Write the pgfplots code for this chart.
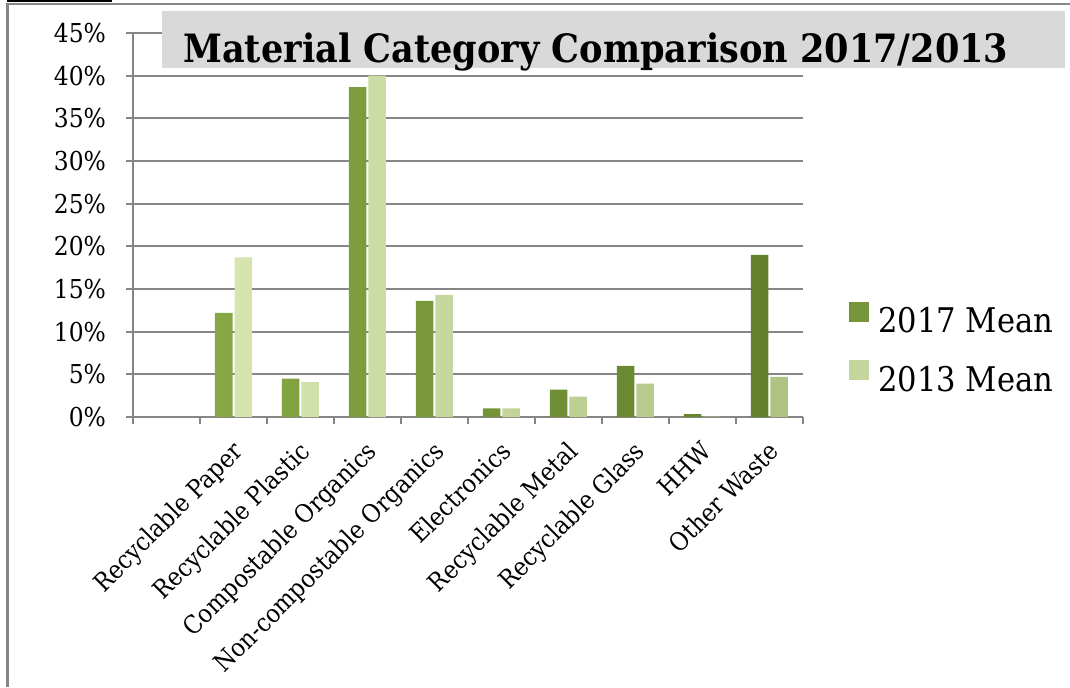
\documentclass[border=0pt]{standalone}
\usepackage{fontspec}
\setmainfont{DejaVu Serif Condensed}
\usepackage{pgfplots}
\pgfplotsset{compat=1.18}
\definecolor{gridgray}{RGB}{134,134,134}
\definecolor{dgA}{RGB}{135,168,68}
\definecolor{dgB}{RGB}{98,128,42}
\definecolor{dgM}{RGB}{118,148,58}
\definecolor{lgA}{RGB}{214,229,176}
\definecolor{lgB}{RGB}{174,194,130}
\definecolor{lgM}{RGB}{196,214,156}
\definecolor{titlegray}{RGB}{217,217,217}
\begin{document}
\begin{tikzpicture}
\path[use as bounding box] (0,0) rectangle (535pt,-343.5pt);
\begin{axis}[
  at={(66.5pt,-208.5pt)}, anchor=south west,
  scale only axis, width=335pt, height=192pt,
  xmin=-0.5, xmax=9.5, ymin=0, ymax=45,
  axis x line*=bottom, axis y line*=left,
  axis line style={gridgray, line width=0.9pt, -},
  ytick={0,5,...,45},
  ymajorgrids, grid style={gridgray, line width=0.9pt},
  yticklabel={\pgfmathprintnumber{\tick}\%},
  tick align=outside, major tick length=3.5pt,
  tick style={gridgray, line width=0.9pt},
  y tick label style={font=\fontsize{13}{15}\selectfont, /pgf/number format/assume math mode=true, xshift=-6.5pt},
  xtick={-0.5,0.5,...,9.5}, xticklabels={},
  extra x ticks={1,2,3,4,5,6,7,8,9},
  extra x tick labels={Recyclable Paper,Recyclable Plastic,Compostable Organics,Non-compostable Organics,Electronics,Recyclable Metal,Recyclable Glass,HHW,Other Waste},
  extra x tick style={major tick length=0pt, grid=none,
     xticklabel style={rotate=45, anchor=north east, font=\fontsize{12.6}{14}\selectfont, yshift=-3.5pt, xshift=-5.5pt}},
  legend style={at={(1.0687,0.18)}, anchor=west, draw=none, fill=none,
     font=\fontsize{17}{20}\selectfont, row sep=12pt, column sep=4.5pt,
     inner sep=0pt, nodes={inner sep=0pt}, cells={anchor=west}},
]
\addplot[forget plot, ybar, bar width=8.75pt, bar shift=-4.875pt, draw=none, left color=dgA, right color=dgB]
  coordinates {(1,12.2) (2,4.5) (3,38.65) (4,13.6) (5,1.0) (6,3.2) (7,6.0) (8,0.35) (9,19.0)};
\addplot[forget plot, ybar, bar width=8.75pt, bar shift=4.875pt, draw=none, left color=lgA, right color=lgB]
  coordinates {(1,18.7) (2,4.1) (3,40.0) (4,14.3) (5,1.0) (6,2.4) (7,3.9) (8,0.05) (9,4.7)};
\addlegendimage{draw=none, legend image code/.code={\fill[dgM, draw=none] (0pt,0pt) rectangle (10pt,10pt);}}
\addlegendentry{2017 Mean}
\addlegendimage{draw=none, legend image code/.code={\fill[lgM, draw=none] (0pt,0pt) rectangle (10pt,10pt);}}
\addlegendentry{2013 Mean}
\end{axis}
\begin{scope}[x=0.5pt,y=-0.5pt]
\draw[black, line width=1pt] (7,1) -- (112,1);
\draw[gridgray, line width=1pt] (7,3.5) -- (1070,3.5);
\draw[gridgray, line width=1.3pt] (7.5,3) -- (7.5,687);
\fill[titlegray] (162,11) rectangle (1065,68);
\node[anchor=base west, inner sep=0pt, font=\fontsize{19.5}{22}\selectfont\bfseries] at (183,62) {Material Category Comparison 2017/2013};
\end{scope}
\end{tikzpicture}
\end{document}
